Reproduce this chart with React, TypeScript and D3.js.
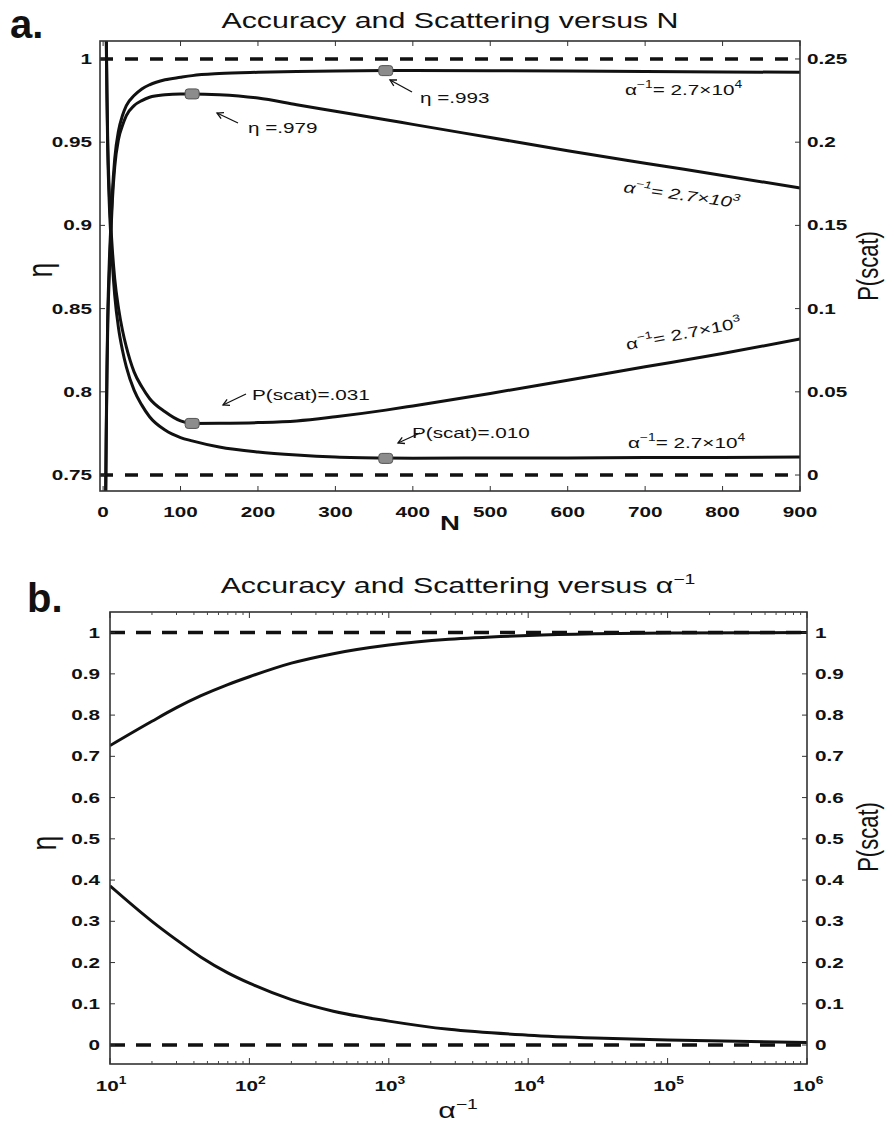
import React from "react"
import * as d3 from "d3"

// ---- panel a data (N axis) ----
const N_VALUES = [1, 2, 3, 4, 5, 6, 8, 10, 12, 15, 20, 25, 30, 40, 50, 60, 80, 100, 115, 150, 200, 250, 300, 365, 400, 500, 600, 700, 800, 900]
const ETA_27E3 = [0.5, 0.65, 0.72, 0.77, 0.81, 0.84, 0.87, 0.895, 0.915, 0.935, 0.952, 0.96, 0.966, 0.972, 0.975, 0.977, 0.9785, 0.979, 0.979, 0.9785, 0.9765, 0.9725, 0.9686, 0.9635, 0.9607, 0.9528, 0.9449, 0.9374, 0.93, 0.9225]
const ETA_27E4 = [0.5, 0.65, 0.72, 0.775, 0.815, 0.845, 0.878, 0.9, 0.92, 0.94, 0.957, 0.966, 0.972, 0.978, 0.982, 0.9845, 0.9875, 0.989, 0.99, 0.9912, 0.992, 0.9925, 0.9928, 0.993, 0.993, 0.9929, 0.9927, 0.9925, 0.9922, 0.992]
const P_27E3 = [0.6, 0.42, 0.33, 0.27, 0.23, 0.2, 0.17, 0.15, 0.135, 0.118, 0.1, 0.087, 0.077, 0.062, 0.053, 0.046, 0.038, 0.0325, 0.031, 0.0311, 0.0315, 0.0325, 0.035, 0.039, 0.0415, 0.049, 0.057, 0.065, 0.073, 0.0817]
const P_27E4 = [0.6, 0.42, 0.33, 0.265, 0.225, 0.195, 0.163, 0.143, 0.127, 0.108, 0.088, 0.075, 0.065, 0.051, 0.042, 0.035, 0.027, 0.0225, 0.0205, 0.0168, 0.0138, 0.012, 0.0108, 0.0102, 0.0101, 0.0102, 0.0103, 0.0105, 0.0106, 0.0108]
const N_TICKS = [0, 100, 200, 300, 400, 500, 600, 700, 800, 900]
const ETA_TICKS_A = [0.75, 0.8, 0.85, 0.9, 0.95, 1]
const P_TICKS_A = [0, 0.05, 0.1, 0.15, 0.2, 0.25]
// optimum markers: [N, value, axis]
const MARKERS_A: [number, number, string][] = [[115, 0.979, "eta"], [365, 0.993, "eta"], [115, 0.031, "p"], [365, 0.01, "p"]]

// ---- panel b data (alpha^-1 axis) ----
const ALPHA_VALUES = [10, 20, 30, 45, 70, 100, 200, 400, 1000, 2700, 10000, 30000, 100000, 1000000]
const ETA_B = [0.726, 0.785, 0.818, 0.847, 0.874, 0.893, 0.926, 0.949, 0.97, 0.984, 0.993, 0.997, 0.999, 1.0]
const P_B = [0.386, 0.3, 0.255, 0.213, 0.175, 0.15, 0.11, 0.082, 0.058, 0.038, 0.024, 0.017, 0.012, 0.006]
const B_TICKS = [0, 0.1, 0.2, 0.3, 0.4, 0.5, 0.6, 0.7, 0.8, 0.9, 1]
const DECADES = [1, 2, 3, 4, 5, 6]

const SX = 1.38
const FONT = "'Liberation Sans', Arial, Helvetica, sans-serif"
const INK = "#111"

const T = ({x, y, children, anchor = "start", size = 15, weight = "normal", rot = 0, pre = false, italic = false, baseline = "auto"}: any) => {
    const tr = pre
        ? `translate(${x},${y}) rotate(${rot}) scale(${SX},1)`
        : `translate(${x},${y}) scale(${SX},1) rotate(${rot})`
    return (
        <text transform={tr} textAnchor={anchor} fontSize={size} fontWeight={weight}
            fontStyle={italic ? "italic" : "normal"} fontFamily={FONT} fill={INK}
            dominantBaseline={baseline}>{children}</text>
    )
}

const Alpha = ({x, y, exp, rot = 0, italic = false}: any) => (
    <T x={x} y={y} rot={rot} pre italic={italic} size={15}>
        α<tspan dy={-7} fontSize={10}>−1</tspan><tspan dy={7}>= 2.7×10</tspan><tspan dy={-7} fontSize={10}>{exp}</tspan>
    </T>
)

const Arrow = ({x1, y1, x2, y2}: any) => {
    // arrow head at (x2, y2)
    const a = Math.atan2(y2 - y1, x2 - x1)
    const h = 7
    const p1 = [x2 - h * Math.cos(a - 0.5), y2 - h * Math.sin(a - 0.5)]
    const p2 = [x2 - h * Math.cos(a + 0.5), y2 - h * Math.sin(a + 0.5)]
    return (
        <g stroke={INK} strokeWidth={1.3} fill="none">
            <line x1={x1} y1={y1} x2={x2} y2={y2} />
            <polyline points={`${p1[0]},${p1[1]} ${x2},${y2} ${p2[0]},${p2[1]}`} />
        </g>
    )
}

const PanelA = () => {
    const L = 100, R = 800, TOP = 41, BOT = 491
    const x = d3.scaleLinear().domain([-4, 900]).range([L, R])
    const yEta = d3.scaleLinear().domain([0.7404, 1.0108]).range([BOT, TOP])
    const yP = d3.scaleLinear().domain([-0.0096, 0.2608]).range([BOT, TOP])
    const line = (vals: number[], y: any) => d3.line<number>()
        .x((_, i) => x(N_VALUES[i]))
        .y(d => y(d))
        .curve(d3.curveMonotoneX)(vals) as string

    return (
        <g>
            <text x={10} y={38} fontSize={40} fontWeight="bold" fontFamily={FONT} fill={INK}>a.</text>
            <T x={450} y={28} anchor="middle" size={22}>Accuracy and Scattering versus N</T>
            <clipPath id="clipA"><rect x={L} y={TOP} width={R - L} height={BOT - TOP} /></clipPath>
            <g clipPath="url(#clipA)">
                <line x1={L} x2={R} y1={yEta(1)} y2={yEta(1)} stroke={INK} strokeWidth={3.5} strokeDasharray="13 12" />
                <line x1={L} x2={R} y1={yEta(0.75)} y2={yEta(0.75)} stroke={INK} strokeWidth={3.5} strokeDasharray="13 12" />
                <path d={line(ETA_27E3, yEta)} fill="none" stroke={INK} strokeWidth={3} />
                <path d={line(ETA_27E4, yEta)} fill="none" stroke={INK} strokeWidth={3} />
                <path d={line(P_27E3, yP)} fill="none" stroke={INK} strokeWidth={3} />
                <path d={line(P_27E4, yP)} fill="none" stroke={INK} strokeWidth={3} />
                {MARKERS_A.map(([n, v, ax], i) => (
                    <rect key={i} x={x(n) - 7} y={(ax === "eta" ? yEta(v) : yP(v)) - 5} width={14} height={10} rx={3}
                        fill="#8c8c8c" stroke="#555" strokeWidth={1} />
                ))}
            </g>
            <rect x={L} y={TOP} width={R - L} height={BOT - TOP} fill="none" stroke="#333" strokeWidth={1.6} />
            {N_TICKS.map(t => (
                <g key={t}>
                    <line x1={x(t)} x2={x(t)} y1={BOT} y2={BOT - 5} stroke="#333" />
                    <line x1={x(t)} x2={x(t)} y1={TOP} y2={TOP + 5} stroke="#333" />
                    <T x={x(t)} y={517} anchor="middle" weight="bold">{t}</T>
                </g>
            ))}
            {ETA_TICKS_A.map(t => (
                <g key={t}>
                    <line x1={L} x2={L + 5} y1={yEta(t)} y2={yEta(t)} stroke="#333" />
                    <T x={92} y={yEta(t)} anchor="end" weight="bold" baseline="central">{String(t)}</T>
                </g>
            ))}
            {P_TICKS_A.map(t => (
                <g key={t}>
                    <line x1={R} x2={R - 5} y1={yP(t)} y2={yP(t)} stroke="#333" />
                    <T x={807} y={yP(t)} weight="bold" baseline="central">{String(t)}</T>
                </g>
            ))}
            <T x={450} y={530} anchor="middle" size={20} weight="bold">N</T>
            <T x={40} y={270} anchor="middle" size={26} rot={-90} baseline="central">η</T>
            <T x={868} y={266} anchor="middle" size={22} rot={-90} baseline="central">P(scat)</T>

            {/* annotations */}
            <Arrow x1={412} y1={92} x2={390} y2={80} />
            <T x={420} y={103}>η =.993</T>
            <Arrow x1={238} y1={123} x2={217} y2={113} />
            <T x={248} y={133}>η =.979</T>
            <Alpha x={625} y={95} exp="4" />
            <Alpha x={623} y={192} exp="3" rot={8} italic />
            <Alpha x={627} y={350} exp="3" rot={-11} />
            <Alpha x={628} y={448} exp="4" />
            <Arrow x1={246} y1={394} x2={223} y2={405} />
            <T x={252} y={400}>P(scat)=.031</T>
            <Arrow x1={420} y1={433} x2={398} y2={443} />
            <T x={412} y={438}>P(scat)=.010</T>
        </g>
    )
}

const PanelB = () => {
    const L = 110, R = 807, TOP = 612, BOT = 1064
    const x = d3.scaleLog().domain([10, 1e6]).range([L, R])
    const y = d3.scaleLinear().domain([-0.046, 1.05]).range([BOT, TOP])
    const line = (vals: number[]) => d3.line<number>()
        .x((_, i) => x(ALPHA_VALUES[i]))
        .y(d => y(d))
        .curve(d3.curveMonotoneX)(vals) as string
    const minor: number[] = []
    DECADES.slice(0, -1).forEach(e => { for (let k = 2; k <= 9; k++) minor.push(k * Math.pow(10, e)) })

    return (
        <g>
            <text x={27} y={612} fontSize={40} fontWeight="bold" fontFamily={FONT} fill={INK}>b.</text>
            <T x={458} y={593} anchor="middle" size={22}>
                Accuracy and Scattering versus α<tspan dy={-9} fontSize={14}>−1</tspan>
            </T>
            <clipPath id="clipB"><rect x={L} y={TOP} width={R - L} height={BOT - TOP} /></clipPath>
            <g clipPath="url(#clipB)">
                <line x1={L} x2={R} y1={y(1)} y2={y(1)} stroke={INK} strokeWidth={3.5} strokeDasharray="15 11" />
                <line x1={L} x2={R} y1={y(0)} y2={y(0)} stroke={INK} strokeWidth={3.5} strokeDasharray="15 11" />
                <path d={line(ETA_B)} fill="none" stroke={INK} strokeWidth={3} />
                <path d={line(P_B)} fill="none" stroke={INK} strokeWidth={3} />
            </g>
            <rect x={L} y={TOP} width={R - L} height={BOT - TOP} fill="none" stroke="#333" strokeWidth={1.6} />
            {minor.map(t => (
                <g key={t}>
                    <line x1={x(t)} x2={x(t)} y1={BOT} y2={BOT - 3} stroke="#444" />
                    <line x1={x(t)} x2={x(t)} y1={TOP} y2={TOP + 3} stroke="#444" />
                </g>
            ))}
            {DECADES.map(e => (
                <g key={e}>
                    <line x1={x(Math.pow(10, e))} x2={x(Math.pow(10, e))} y1={BOT} y2={BOT - 6} stroke="#333" />
                    <line x1={x(Math.pow(10, e))} x2={x(Math.pow(10, e))} y1={TOP} y2={TOP + 6} stroke="#333" />
                    <T x={x(Math.pow(10, e)) + 1} y={1091} anchor="middle" weight="bold">
                        10<tspan dy={-7} fontSize={10}>{e}</tspan>
                    </T>
                </g>
            ))}
            {B_TICKS.map(t => (
                <g key={t}>
                    <line x1={L} x2={L + 5} y1={y(t)} y2={y(t)} stroke="#333" />
                    <line x1={R} x2={R - 5} y1={y(t)} y2={y(t)} stroke="#333" />
                    <T x={100} y={y(t)} anchor="end" weight="bold" baseline="central">{String(t)}</T>
                    <T x={815} y={y(t)} weight="bold" baseline="central">{String(t)}</T>
                </g>
            ))}
            <T x={458} y={1118} anchor="middle" size={22}>
                α<tspan dy={-9} fontSize={14}>−1</tspan>
            </T>
            <T x={44} y={843} anchor="middle" size={26} rot={-90} baseline="central">η</T>
            <T x={868} y={837} anchor="middle" size={22} rot={-90} baseline="central">P(scat)</T>
        </g>
    )
}

const App = () => (
    <svg width={888} height={1129} style={{position: "absolute", left: 0, top: 0, background: "#fff"}}>
        <rect width={888} height={1129} fill="#fff" />
        <PanelA />
        <PanelB />
    </svg>
)

export default App
